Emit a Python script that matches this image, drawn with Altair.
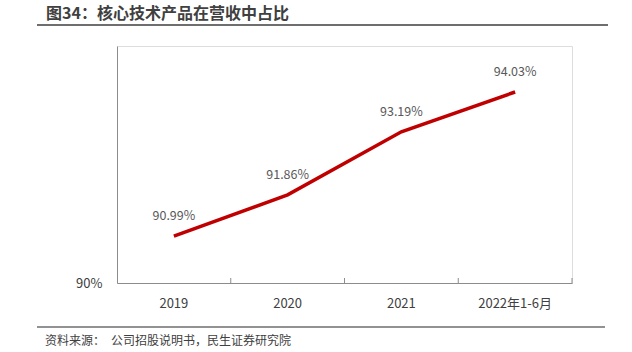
import altair as alt
import pandas as pd

categories = ["2019", "2020", "2021", "2022年1-6月"]
values = [90.99, 91.86, 93.19, 94.03]
labels = ["90.99%", "91.86%", "93.19%", "94.03%"]
y_ticks = [90]
title_text = "图34：核心技术产品在营收中占比"
source_text = "资料来源：\u2002公司招股说明书，民生证券研究院"

df = pd.DataFrame({"cat": categories, "val": values, "label": labels})
FONT = "Noto Sans CJK SC"
W, H = 455, 237

xscale = alt.Scale(type="band", paddingInner=0, paddingOuter=0)
yscale = alt.Scale(domain=[90, 95], nice=False, zero=False)

base = alt.Chart(df)

line = base.mark_line(color="#C00000", strokeWidth=3.5).encode(
    x=alt.X("cat:N", sort=categories, scale=xscale,
            axis=alt.Axis(title=None, labelAngle=0, labelFontSize=13, labelColor="#404040",
                          labelFont=FONT, ticks=False, domainColor="#8c8c8c", labelPadding=14)),
    y=alt.Y("val:Q", scale=yscale,
            axis=alt.Axis(values=y_ticks, labelExpr="datum.value + '%'", title=None, grid=False,
                          ticks=False, domainColor="#8c8c8c", labelFontSize=13, labelColor="#404040",
                          labelFont=FONT, labelPadding=15)),
)

text = base.mark_text(fontSize=12.5, color="#595959", font=FONT, dy=-20, baseline="middle").encode(
    x=alt.X("cat:N", sort=categories, scale=xscale),
    y=alt.Y("val:Q", scale=yscale),
    text="label:N",
)

ticks = base.mark_rule(color="#8c8c8c", strokeWidth=1).encode(
    x=alt.X("cat:N", sort=categories, scale=xscale, bandPosition=1),
    y=alt.value(H - 5),
    y2=alt.value(H),
)

title = alt.Chart(pd.DataFrame({"t": [title_text]})).mark_text(
    fontSize=16, fontWeight="bold", color="#404040", font=FONT, align="left", baseline="alphabetic"
).encode(x=alt.value(-71), y=alt.value(-27), text="t:N")

title_rule = alt.Chart(pd.DataFrame({"t": [0]})).mark_rule(color="#6e6e6e", strokeWidth=2).encode(
    x=alt.value(-80), x2=alt.value(491), y=alt.value(-21))

bottom_rule = alt.Chart(pd.DataFrame({"t": [0]})).mark_rule(color="#6e6e6e", strokeWidth=1.5).encode(
    x=alt.value(-80), x2=alt.value(488), y=alt.value(281))

source = alt.Chart(pd.DataFrame({"t": [source_text]})).mark_text(
    fontSize=12, color="#404040", font=FONT, align="left", baseline="alphabetic"
).encode(x=alt.value(-72), y=alt.value(299), text="t:N")

chart = alt.layer(line, ticks, text, title, title_rule, bottom_rule, source).properties(
    width=W, height=H,
    autosize=alt.AutoSizeParams(type="none"),
    padding={"left": 117, "top": 46, "right": 60, "bottom": 69},
).configure_view(stroke=None).configure(background="white")

chart.save("out.html", embed_options={"renderer": "svg", "actions": False})
